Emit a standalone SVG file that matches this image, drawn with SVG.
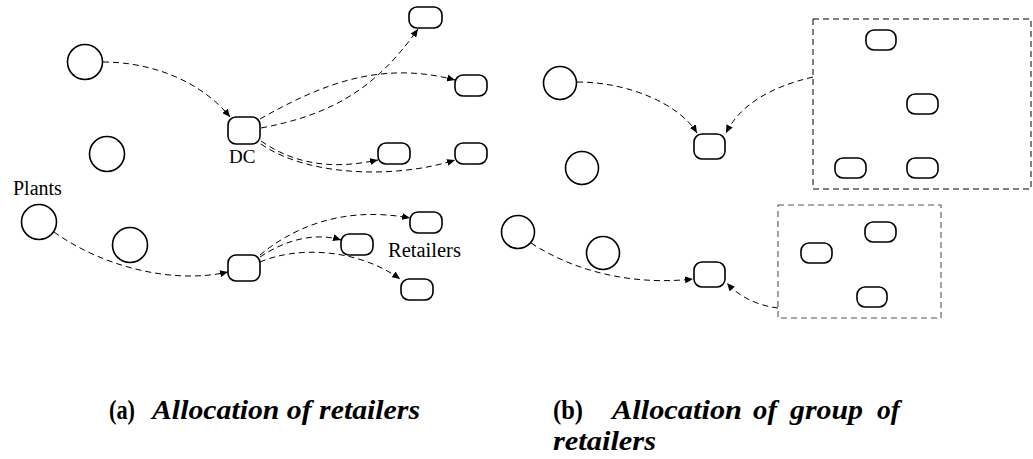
<svg xmlns="http://www.w3.org/2000/svg" width="1033" height="459" viewBox="0 0 1033 459">
<style>
.n{fill:#fff;stroke:#000;stroke-width:1.6}
.c{fill:none;stroke:#000;stroke-width:1;stroke-dasharray:6,4}
.g{fill:none;stroke:#000;stroke-width:1;stroke-dasharray:6,4}
.g2{fill:none;stroke:#555;stroke-width:1.1;stroke-dasharray:6,4}
.lb{font-family:"Liberation Serif",serif;fill:#000}
.cap{font-family:"Liberation Serif",serif;font-weight:bold;fill:#000;font-size:27px}
.it{font-style:italic}
</style>
<defs>
<marker id="ah" markerUnits="userSpaceOnUse" markerWidth="9" markerHeight="7" refX="8" refY="3.5" orient="auto">
<path d="M0,0 L8,3.5 L0,7 z" fill="#000"/>
</marker>
</defs>
<rect width="1033" height="459" fill="#fff"/>
<g id="connectors">
<path class="c" d="M103,62 C150,62 200,80 230,117" marker-end="url(#ah)"/>
<path class="c" d="M261,128 C330,115 375,90 418,29" marker-end="url(#ah)"/>
<path class="c" d="M260,119 C320,85 380,60 455,80" marker-end="url(#ah)"/>
<path class="c" d="M261,141 C300,168 340,168 378,160" marker-end="url(#ah)"/>
<path class="c" d="M261,144 C310,178 400,178 455,160" marker-end="url(#ah)"/>
<path class="c" d="M54,232 C100,265 170,285 228,272" marker-end="url(#ah)"/>
<path class="c" d="M260,255 C290,230 340,205 410,218" marker-end="url(#ah)"/>
<path class="c" d="M260,257 C285,240 315,232 341,240" marker-end="url(#ah)"/>
<path class="c" d="M260,262 C300,245 360,250 400,279" marker-end="url(#ah)"/>
<path class="c" d="M577,82 C630,82 680,105 697,133" marker-end="url(#ah)"/>
<path class="c" d="M813,77 C770,87 740,105 726,133" marker-end="url(#ah)"/>
<path class="c" d="M531,243 C580,275 640,285 693,279" marker-end="url(#ah)"/>
<path class="c" d="M778,308 C760,306 740,298 727,283" marker-end="url(#ah)"/>
</g>
<g id="plant1"><circle class="n" cx="85" cy="62" r="17.5"/></g>
<g id="plant2"><circle class="n" cx="107" cy="154" r="17.5"/></g>
<g id="plant3"><circle class="n" cx="39" cy="222" r="17.5"/></g>
<g id="plant4"><circle class="n" cx="130" cy="245" r="17.5"/></g>
<g id="dc1"><rect class="n" x="228" y="117" width="32" height="27" rx="8"/></g>
<g id="dc2"><rect class="n" x="228" y="255" width="32" height="26" rx="8"/></g>
<g id="r1"><rect class="n" x="409" y="7" width="33" height="21" rx="8"/></g>
<g id="r2"><rect class="n" x="455" y="75" width="32" height="21" rx="8"/></g>
<g id="r3"><rect class="n" x="378" y="143" width="32" height="21" rx="8"/></g>
<g id="r4"><rect class="n" x="455" y="143" width="32" height="21" rx="8"/></g>
<g id="r5"><rect class="n" x="410" y="212" width="32" height="21" rx="8"/></g>
<g id="r6"><rect class="n" x="341" y="234" width="32" height="21" rx="8"/></g>
<g id="r7"><rect class="n" x="401" y="279" width="32" height="21" rx="8"/></g>
<g id="labels-a">
<text class="lb" x="229" y="163" font-size="19">DC</text>
<text class="lb" x="13" y="195" font-size="20">Plants</text>
<text class="lb" x="388" y="257" font-size="20.5">Retailers</text>
</g>
<g id="plant5"><circle class="n" cx="560" cy="83" r="16.5"/></g>
<g id="plant6"><circle class="n" cx="582" cy="168" r="16.5"/></g>
<g id="plant7"><circle class="n" cx="518" cy="232" r="16.5"/></g>
<g id="plant8"><circle class="n" cx="603" cy="253" r="16.5"/></g>
<g id="dc3"><rect class="n" x="694" y="134" width="31" height="25" rx="8"/></g>
<g id="dc4"><rect class="n" x="694" y="262" width="31" height="25" rx="8"/></g>
<g id="group1">
<rect class="g" x="813" y="19" width="218" height="170"/>
<rect class="n" x="866" y="30" width="30" height="20" rx="8"/>
<rect class="n" x="907" y="94" width="31" height="20" rx="8"/>
<rect class="n" x="835" y="158" width="31" height="20" rx="8"/>
<rect class="n" x="907" y="158" width="31" height="20" rx="8"/>
</g>
<g id="group2">
<rect class="g2" x="778" y="205" width="163" height="113"/>
<rect class="n" x="865" y="222" width="31" height="20" rx="8"/>
<rect class="n" x="801" y="243" width="31" height="20" rx="8"/>
<rect class="n" x="857" y="287" width="30" height="20" rx="8"/>
</g>
<g id="captions">
<text class="cap" x="109" y="419" textLength="26" lengthAdjust="spacingAndGlyphs">(a)</text>
<text class="cap it" x="152" y="419" textLength="268" lengthAdjust="spacingAndGlyphs">Allocation of retailers</text>
<text class="cap" x="553" y="419" textLength="30" lengthAdjust="spacingAndGlyphs">(b)</text>
<text class="cap it" x="612" y="419" textLength="130" lengthAdjust="spacingAndGlyphs">Allocation</text>
<text class="cap it" x="753" y="419" textLength="24" lengthAdjust="spacingAndGlyphs">of</text>
<text class="cap it" x="790" y="419" textLength="73" lengthAdjust="spacingAndGlyphs">group</text>
<text class="cap it" x="877" y="419" textLength="23" lengthAdjust="spacingAndGlyphs">of</text>
<text class="cap it" x="553" y="450" textLength="103" lengthAdjust="spacingAndGlyphs">retailers</text>
</g>
</svg>
